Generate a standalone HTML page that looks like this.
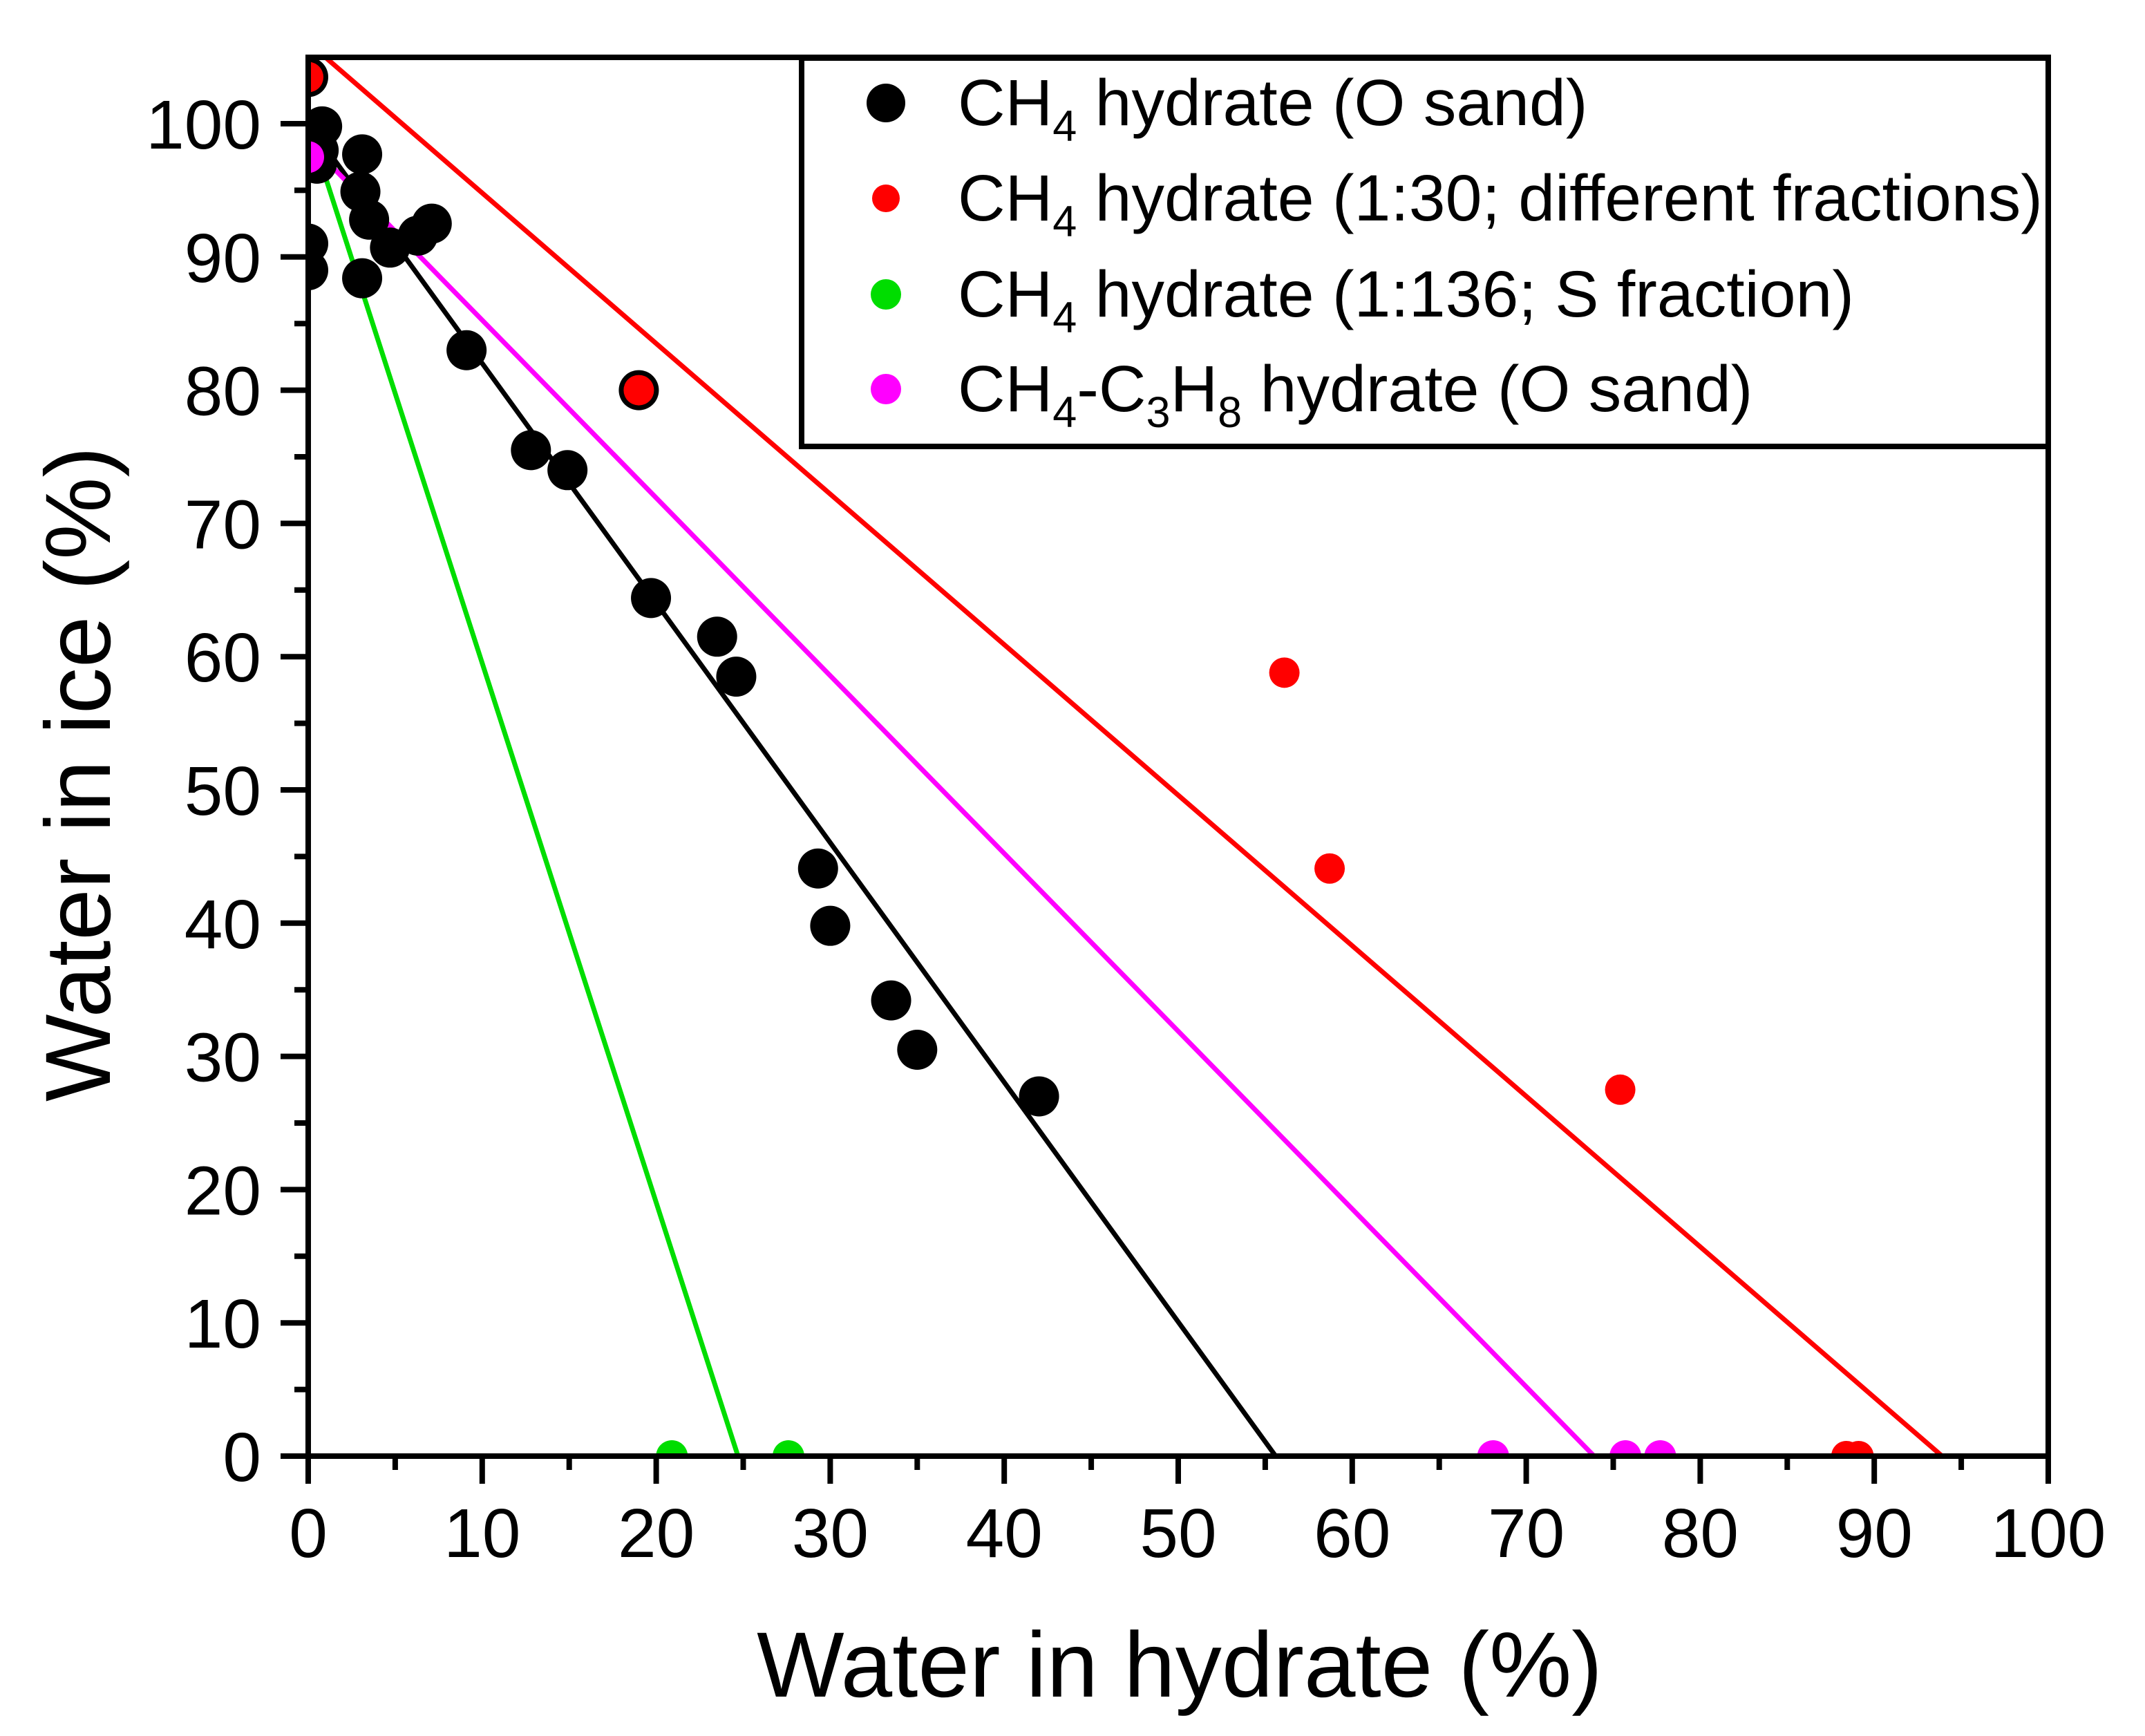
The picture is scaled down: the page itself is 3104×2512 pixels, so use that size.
<!DOCTYPE html>
<html><head><meta charset="utf-8"><style>
html,body{margin:0;padding:0;background:#fff;}
svg{display:block;font-family:"Liberation Sans",Arial,sans-serif;}
</style></head><body>
<svg id="chart" width="3104" height="2512" viewBox="0 0 3104 2512" xmlns="http://www.w3.org/2000/svg">
<defs><clipPath id="plotclip"><rect x="446" y="83" width="2518" height="2024"/></clipPath></defs>
<rect width="3104" height="2512" fill="#fff"/>
<g id="fits" clip-path="url(#plotclip)"></g>
<g id="points" clip-path="url(#plotclip)"></g>
<g id="axes"></g>
<text x="1707" y="2455" font-size="134" text-anchor="middle">Water in hydrate (%)</text>
<text transform="translate(113,1120) rotate(-90)" x="0" y="46" font-size="134" text-anchor="middle">Water in ice (%)</text>
<g id="legend">
<rect x="1160" y="84" width="1804" height="562" fill="#fff" stroke="#000" stroke-width="8"/>
<circle cx="1282" cy="149" r="28" fill="#000"/>
<text x="1386" y="181" font-size="95">CH<tspan font-size="63" dy="23">4</tspan><tspan dy="-23"> hydrate (O sand)</tspan></text>
<circle cx="1282" cy="287" r="20" fill="#f00"/>
<text x="1386" y="319" font-size="95">CH<tspan font-size="63" dy="23">4</tspan><tspan dy="-23"> hydrate (1:30; different fractions)</tspan></text>
<circle cx="1282" cy="426" r="22" fill="#00dd00"/>
<text x="1386" y="458" font-size="95">CH<tspan font-size="63" dy="23">4</tspan><tspan dy="-23"> hydrate (1:136; S fraction)</tspan></text>
<circle cx="1282" cy="563" r="22" fill="#ff00ff"/>
<text x="1386" y="595" font-size="95">CH<tspan font-size="63" dy="23">4</tspan><tspan dy="-23">-C</tspan><tspan font-size="63" dy="23">3</tspan><tspan dy="-23">H</tspan><tspan font-size="63" dy="23">8</tspan><tspan dy="-23"> hydrate (O sand)</tspan></text>
</g>
</svg>
<script>
const blackX=[0,0.8,0.6,0.5,0,0,3.1,3.0,3.5,3.1,4.7,6.3,7.1,9.1,12.8,14.9,19.0,19.7,23.5,24.6,29.3,30.0,33.5,35.0,42.0];
const blackY=[103.5,99.8,98,97,91,89,97.7,94.9,92.8,88.4,90.7,91.6,92.5,83,75.5,74,80,64.4,61.5,58.5,44.1,39.8,34.2,30.5,27];
const redX=[0,19.0,56.1,58.7,75.4,88.4,89.1];
const redY=[103.5,80,58.8,44.1,27.5,0,0];
const greenX=[20.9,27.6];
const greenY=[0,0];
const magentaX=[0,68.1,75.7,77.7];
const magentaY=[97.5,0,0,0];
const fitNames=['black','green','magenta','red'];
const fitIntercepts=[100,100,98.6,106.1];
const fitXZero=[55.6,24.7,73.9,93.9];
const xTicks=[0,10,20,30,40,50,60,70,80,90,100];
const yTicks=[0,10,20,30,40,50,60,70,80,90,100];

const X0=446,X1=2964,Y0=2107,YT=83;
const sx=v=>X0+(X1-X0)*v/100;
const sy=v=>Y0-(Y0-179)*v/100;
const NS='http://www.w3.org/2000/svg';
function mk(tag,attrs,parent){const e=document.createElementNS(NS,tag);for(const k in attrs)e.setAttribute(k,attrs[k]);parent.appendChild(e);return e;}
const fits=document.getElementById('fits'),pts=document.getElementById('points'),axes=document.getElementById('axes');
const colors={black:'#000',green:'#00dd00',magenta:'#ff00ff',red:'#f00'};
fitNames.forEach((n,i)=>{
  const l=mk('line',{x1:sx(0),y1:sy(fitIntercepts[i]),x2:sx(fitXZero[i]),y2:sy(0),stroke:colors[n],'stroke-width':7},fits);
  
  
});
function series(xs,ys,col,r,name){
  xs.forEach((x,i)=>{
    const c=mk('circle',{cx:sx(x),cy:sy(ys[i]),r:r,fill:col},pts);
    
    
  });
}
series(blackX,blackY,'#000',29,'ch4-o-sand');
series(redX,redY,'#f00',22,'ch4-1-30');
series(greenX,greenY,'#00dd00',23,'ch4-1-136');
series(magentaX,magentaY,'#ff00ff',23,'ch4-c3h8');
const fr=mk('rect',{x:X0,y:YT,width:X1-X0,height:Y0-YT,fill:'none',stroke:'#000','stroke-width':8},axes);


xTicks.forEach(v=>{
  const t=mk('line',{x1:sx(v),y1:Y0,x2:sx(v),y2:Y0+40,stroke:'#000','stroke-width':8},axes);
  
  
  if(v<100){const m=mk('line',{x1:sx(v+5),y1:Y0,x2:sx(v+5),y2:Y0+20,stroke:'#000','stroke-width':8},axes);
  
  }
  const tx=mk('text',{x:sx(v),y:2253,'font-size':100,'text-anchor':'middle'},axes);
  tx.textContent=v;
  
  
});
yTicks.forEach(v=>{
  const t=mk('line',{x1:X0-40,y1:sy(v),x2:X0,y2:sy(v),stroke:'#000','stroke-width':8},axes);
  
  
  if(v<100){const m=mk('line',{x1:X0-20,y1:sy(v+5),x2:X0,y2:sy(v+5),stroke:'#000','stroke-width':8},axes);
  
  }
  const tx=mk('text',{x:378,y:sy(v)+36,'font-size':100,'text-anchor':'end'},axes);
  tx.textContent=v;
  
  
});
</script>
</body></html>
